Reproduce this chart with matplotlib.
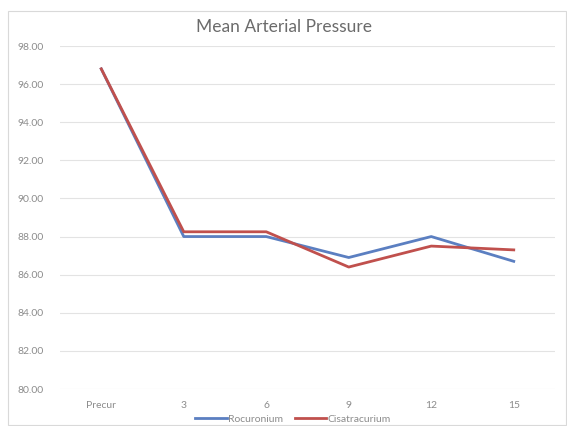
import matplotlib
matplotlib.use("Agg")
import matplotlib.pyplot as plt
from matplotlib.patches import Rectangle

plt.rcParams['font.family'] = ['Lato', 'DejaVu Sans']

# mean arterial pressure per time point
times = ["Precur", "3", "6", "9", "12", "15"]
rocuronium = [96.8, 88.0, 88.0, 86.9, 88.0, 86.7]
cisatracurium = [96.8, 88.25, 88.25, 86.4, 87.5, 87.3]
yticks = [80, 82, 84, 86, 88, 90, 92, 94, 96, 98]

fig = plt.figure(figsize=(5.67, 4.26), dpi=100)
fig.patches.append(Rectangle((8/567, 1/426), 558/567, 414/426, transform=fig.transFigure,
                             fill=False, edgecolor="#D9D9D9", lw=0.8))
ax = fig.add_axes([60/567, 1 - 389/426, 495/567, 343/426])

x = list(range(len(times)))
ax.plot(x, rocuronium, color="#5B7FC1", lw=2.0, label="Rocuronium")
ax.plot(x, cisatracurium, color="#C0504D", lw=2.0, label="Cisatracurium")

ax.set_xlim(-0.5, len(times) - 0.5)
ax.set_ylim(80, 98)
ax.set_yticks(yticks)
ax.set_yticklabels([f"{v:.2f}" for v in yticks])
ax.set_xticks(x)
ax.set_xticklabels(times)
ax.tick_params(length=0, labelsize=7.5, colors="#8C8C8C", pad=9)
ax.tick_params(axis="y", pad=12)
ax.grid(axis="y", color="#E3E3E3", lw=0.8)
ax.set_axisbelow(True)
for s in ax.spines.values():
    s.set_visible(False)

fig.text(0.5, 1 - 27/426, "Mean Arterial Pressure", ha="center", va="center",
         fontsize=12.5, color="#6B6B6B")
fig.legend(loc="center", bbox_to_anchor=(293/567, 1 - 419/426), ncol=2, frameon=False,
           fontsize=7.5, handlelength=3.0, handletextpad=0.1, columnspacing=1.2,
           labelcolor="#8C8C8C")

fig.savefig("out.png", dpi=100)
